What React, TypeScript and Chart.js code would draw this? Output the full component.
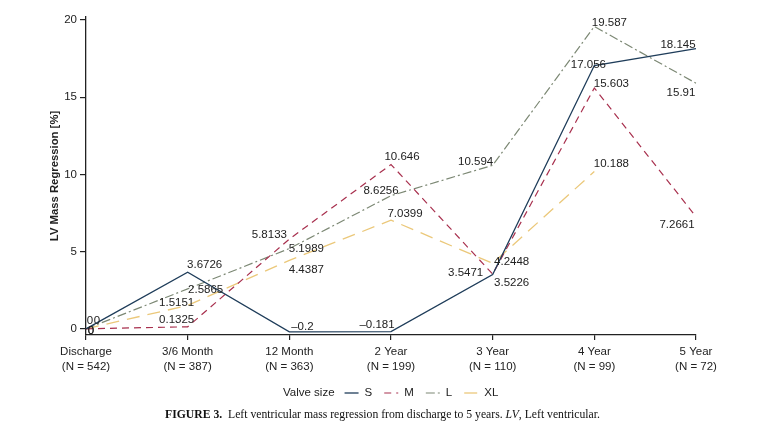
import React, { useEffect, useRef } from "react";
import { Chart, registerables } from "chart.js";

Chart.register(...registerables);

const categories = ["Discharge", "3/6 Month", "12 Month", "2 Year", "3 Year", "4 Year", "5 Year"];
const sampleSizes = ["(N = 542)", "(N = 387)", "(N = 363)", "(N = 199)", "(N = 110)", "(N = 99)", "(N = 72)"];
const seriesNames = ["S", "M", "L", "XL"];
const seriesS = [0, 3.6726, -0.2, -0.181, 3.5226, 17.056, 18.145];
const seriesM = [0, 0.1325, 5.8133, 10.646, 3.5471, 15.603, 7.2661];
const seriesL = [0, 2.5865, 5.1989, 8.6256, 10.594, 19.587, 15.91];
const seriesXL = [0, 1.5151, 4.4387, 7.0399, 4.2448, 10.188, null];
const yTicks = [0, 5, 10, 15, 20];

// label placement offsets (style only), [dx, dy] from each point
const offsS = [[4, -8], [17, -7], [13, -5], [-14, -7], [19, 8], [-6, -1], [-18, -4]];
const offsM = [[5, 2], [-11, -7], [-20, -4], [11, -8], [-27, -1], [17, -4], [-19, 8]];
const offsL = [[11, -8], [18, 1], [17, 0], [-10, -5], [-17, -3], [15, -4], [-15, 10]];
const offsXL = [[5, 2], [-11, -3], [17, 10], [14, -6], [19, -1], [17, -8], [0, 0]];

const FONT = "'Liberation Sans', Arial, Helvetica, sans-serif";
const TEXT = "#222";

const fmt = (v: number) => (v < 0 ? "\u2013" + String(Math.abs(v)) : String(v));

const labelPlugin = {
  id: "pointLabels",
  afterDatasetsDraw(chart: any) {
    const ctx = chart.ctx;
    const offsets = [offsS, offsM, offsL, offsXL];
    ctx.save();
    ctx.font = `11.5px ${FONT}`;
    ctx.fillStyle = TEXT;
    ctx.textAlign = "center";
    ctx.textBaseline = "middle";
    chart.data.datasets.forEach((ds: any, di: number) => {
      const meta = chart.getDatasetMeta(di);
      ds.data.forEach((v: number | null, i: number) => {
        if (v === null || v === undefined) return;
        const pt = meta.data[i];
        const [dx, dy] = offsets[di][i];
        ctx.fillText(fmt(v), pt.x + dx, pt.y + dy);
      });
    });
    ctx.restore();
  },
};

const legendPlugin = {
  id: "inlineLegend",
  afterDraw(chart: any) {
    const ctx = chart.ctx;
    ctx.save();
    ctx.font = `11.5px ${FONT}`;
    ctx.fillStyle = TEXT;
    ctx.textAlign = "left";
    ctx.textBaseline = "middle";
    const y = 393;
    let x = 283;
    ctx.fillText("Valve size", x, y);
    x += ctx.measureText("Valve size").width + 10;
    chart.data.datasets.forEach((ds: any) => {
      ctx.save();
      ctx.strokeStyle = ds.borderColor;
      ctx.lineWidth = ds.borderWidth;
      ctx.setLineDash(ds.borderDash || []);
      ctx.beginPath();
      ctx.moveTo(x, y);
      ctx.lineTo(x + 14, y);
      ctx.stroke();
      ctx.restore();
      x += 14 + 6;
      ctx.fillText(ds.label, x, y);
      x += ctx.measureText(ds.label).width + 12;
    });
    ctx.restore();
  },
};

export default function App() {
  const ref = useRef<HTMLCanvasElement | null>(null);

  useEffect(() => {
    if (!ref.current) return;
    const chart = new Chart(ref.current, {
      type: "line",
      data: {
        labels: categories.map((c, i) => [c, sampleSizes[i]]),
        datasets: [
          {
            label: seriesNames[0],
            data: seriesS,
            borderColor: "#1f3d5a",
            borderWidth: 1.3,
            pointRadius: 0,
            tension: 0,
          },
          {
            label: seriesNames[1],
            data: seriesM,
            borderColor: "#a8304e",
            borderWidth: 1.2,
            borderDash: [7, 5],
            pointRadius: 0,
            tension: 0,
          },
          {
            label: seriesNames[2],
            data: seriesL,
            borderColor: "#7c8874",
            borderWidth: 1.2,
            borderDash: [9, 3, 2, 3],
            pointRadius: 0,
            tension: 0,
          },
          {
            label: seriesNames[3],
            data: seriesXL,
            borderColor: "#ebc87a",
            borderWidth: 1.3,
            borderDash: [13, 8],
            pointRadius: 0,
            tension: 0,
          },
        ],
      },
      options: {
        responsive: false,
        animation: false,
        layout: { padding: { left: 40, right: 61, top: 17, bottom: 55 } },
        plugins: {
          legend: { display: false },
          tooltip: { enabled: false },
        },
        scales: {
          x: {
            type: "category",
            offset: false,
            grid: { drawOnChartArea: false, drawTicks: true, tickLength: 5, color: TEXT, lineWidth: 1.2 },
            border: { display: true, color: TEXT, width: 1.3 },
            ticks: {
              color: TEXT,
              font: { family: FONT, size: 11.5, lineHeight: 1.3 },
              padding: 4,
              maxRotation: 0,
              autoSkip: false,
            },
            afterFit(scale: any) {
              scale.height = 40;
            },
          },
          y: {
            min: -0.4,
            max: 20.2,
            grid: { drawOnChartArea: false, drawTicks: true, tickLength: 6, color: TEXT, lineWidth: 1.2 },
            border: { display: true, color: TEXT, width: 1.3 },
            ticks: {
              color: TEXT,
              font: { family: FONT, size: 11.5 },
              padding: 3,
            },
            afterBuildTicks(scale: any) {
              scale.ticks = yTicks.map((v) => ({ value: v }));
            },
            afterFit(scale: any) {
              scale.width = 46;
            },
            title: {
              display: true,
              text: "LV Mass Regression [%]",
              color: TEXT,
              font: { family: FONT, size: 11.3, weight: "bold" },
              padding: { top: 8, bottom: 0 },
            },
          },
        },
      },
      plugins: [labelPlugin, legendPlugin],
    });
    return () => chart.destroy();
  }, []);

  return (
    <div style={{ position: "absolute", left: 0, top: 0, width: 757, height: 430, background: "#fff" }}>
      <canvas ref={ref} width={757} height={430} style={{ display: "block" }} />
      <div
        style={{
          position: "absolute",
          left: 165,
          top: 408,
          fontFamily: "'Liberation Serif', 'Times New Roman', serif",
          fontSize: 11.7,
          color: "#111",
          whiteSpace: "nowrap",
        }}
      >
        <b>FIGURE 3.</b>&nbsp;&nbsp;Left ventricular mass regression from discharge to 5 years. <i>LV</i>, Left
        ventricular.
      </div>
    </div>
  );
}
